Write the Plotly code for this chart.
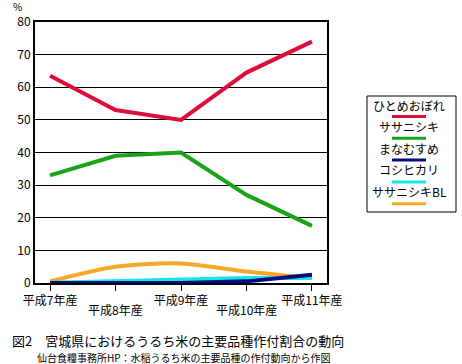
import plotly.graph_objects as go

categories = ["平成7年産", "平成8年産", "平成9年産", "平成10年産", "平成11年産"]
series_names = ["ひとめおぼれ", "ササニシキ", "まなむすめ", "コシヒカリ", "ササニシキBL"]
hitomebore = [63.5, 53, 50, 64.5, 74]
sasanishiki = [33, 39, 40, 27, 17.5]
manamusume = [0, 0, 0, 0.5, 2.5]
koshihikari = [0.1, 0.5, 1, 1.5, 1.5]
sasanishiki_bl = [0.5, 5, 6, 3.5, 1.5]
colors = ["#dc0f3c", "#19a319", "#0a0a82", "#14e6e6", "#f8a828"]
y_ticks = [0, 10, 20, 30, 40, 50, 60, 70, 80]

FONT = "Noto Sans CJK JP"
values = [hitomebore, sasanishiki, manamusume, koshihikari, sasanishiki_bl]
draw_order = [4, 3, 2, 1, 0]

fig = go.Figure()
xs = list(range(len(categories)))
for i in draw_order:
    fig.add_trace(go.Scatter(
        x=xs, y=values[i], mode="lines", name=series_names[i],
        line=dict(color=colors[i], width=4, shape="spline" if i == 4 else "linear", smoothing=0.8),
        showlegend=False,
    ))

# upper row of category labels as tick text, lower row as annotations
ticktext = [c if k % 2 == 0 else "" for k, c in enumerate(categories)]

fig.update_layout(
    width=462, height=364,
    margin=dict(l=35, r=135, t=22, b=81),
    paper_bgcolor="white", plot_bgcolor="white",
    font=dict(family=FONT, color="black", size=12),
    xaxis=dict(
        range=[-0.23, 4.23], tickvals=xs, ticktext=ticktext,
        showgrid=False, showline=True, linecolor="black", linewidth=2, mirror=True,
        ticks="outside", ticklen=6, tickcolor="black", tickwidth=1,
        tickfont=dict(size=12, family=FONT), zeroline=False,
    ),
    yaxis=dict(
        range=[0, 80], tickvals=y_ticks, showgrid=True, gridcolor="black", gridwidth=1,
        showline=True, linecolor="black", linewidth=2, mirror=True,
        ticks="", tickfont=dict(size=12, family=FONT), zeroline=False,
    ),
)

pw = 462 - 35 - 135
ph = 364 - 22 - 81
def px_to_paper(x, y):
    return (x - 35) / pw, (364 - 81 - y) / ph

for k, c in enumerate(categories):
    if k % 2 == 1:
        _, ly = px_to_paper(0, 309)
        fig.add_annotation(text=c, xref="x", yref="paper", x=xs[k], y=ly, showarrow=False,
                           xanchor="center", yanchor="middle", font=dict(size=12, family=FONT))

# percent unit
px, py = px_to_paper(11, 7)
fig.add_annotation(text="%", xref="paper", yref="paper", x=px, y=py,
                   xanchor="left", yanchor="middle", showarrow=False, font=dict(size=10, family=FONT))

# Manual legend box (paper coordinates)
x0, y0 = px_to_paper(367, 96)
x1, y1 = px_to_paper(456, 212)
fig.add_shape(type="rect", xref="paper", yref="paper", x0=x0, y0=y0, x1=x1, y1=y1,
              line=dict(color="black", width=1), fillcolor="white")
for k, name in enumerate(series_names):
    ty = 105.5 + k * 21.4
    ly = 116.5 + k * 21.8
    ax, ay = px_to_paper(409, ty)
    fig.add_annotation(text=name, xref="paper", yref="paper", x=ax, y=ay, showarrow=False,
                       xanchor="center", yanchor="middle", font=dict(size=12, family=FONT))
    lx0, lyy = px_to_paper(392, ly)
    lx1, _ = px_to_paper(426, ly)
    fig.add_shape(type="line", xref="paper", yref="paper", x0=lx0, y0=lyy, x1=lx1, y1=lyy,
                  line=dict(color=colors[k], width=3))

# Captions
cx, cy = px_to_paper(10, 340)
fig.add_annotation(text="図2　宮城県におけるうるち米の主要品種作付割合の動向", xref="paper", yref="paper",
                   x=cx, y=cy, xanchor="left", yanchor="middle", showarrow=False,
                   font=dict(size=13, family=FONT))
sx, sy = px_to_paper(35, 357)
fig.add_annotation(text="仙台食糧事務所HP：水稲うるち米の主要品種の作付動向から作図", xref="paper", yref="paper",
                   x=sx, y=sy, xanchor="left", yanchor="middle", showarrow=False,
                   font=dict(size=10, family=FONT))

fig.write_html("out.html", config={"displayModeBar": False},
               post_script="document.body.style.margin='0';document.body.style.overflow='hidden';")
